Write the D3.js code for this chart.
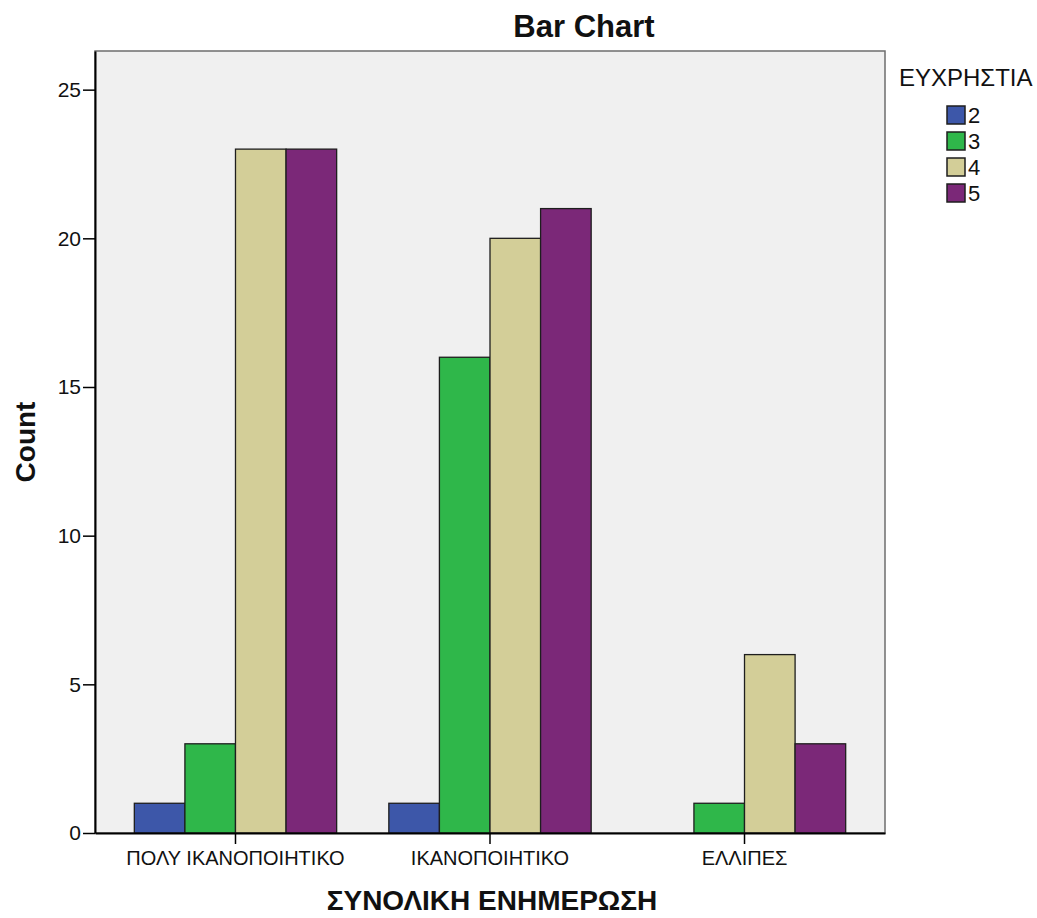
<!DOCTYPE html>
<html>
<head>
<meta charset="utf-8">
<script src="https://cdn.jsdelivr.net/npm/d3@7"></script>
<style>
  body { margin: 0; background: #fff; }
  text { font-family: "Liberation Sans", Arial, sans-serif; fill: #111; }
</style>
</head>
<body>
<div id="chart"></div>
<script>
// categories on the x axis and the series in the legend
const categorias = ["ΠΟΛΥ ΙΚΑΝΟΠΟΙΗΤΙΚΟ", "ΙΚΑΝΟΠΟΙΗΤΙΚΟ", "ΕΛΛΙΠΕΣ"];
const series = ["2", "3", "4", "5"];
const colores = ["#3d57a9", "#2fb74a", "#d3ce98", "#7b2878"];

// counts per series, one value for each category
const val2 = [1, 1, 0];
const val3 = [3, 16, 1];
const val4 = [23, 20, 6];
const val5 = [23, 21, 3];
const valores = [val2, val3, val4, val5];

const yTicks = [0, 5, 10, 15, 20, 25];

const W = 1037, H = 918;
const margin = {left: 95, right: 152, top: 51, bottom: 85};

let svg = d3.select("#chart").append("svg")
    .attr("width", W)
    .attr("height", H);

let x = d3.scaleBand()
    .domain(categorias)
    .range([margin.left, W - margin.right])
    .paddingInner(0)
    .paddingOuter(0.052);

let y = d3.scaleLinear()
    .domain([0, 26.3])
    .range([H - margin.bottom, margin.top]);

let grupo = x.bandwidth() * 0.795;
let xs = d3.scaleBand()
    .domain(series)
    .range([0, grupo]);

let color = d3.scaleOrdinal(series, colores);

// plot background and frame
svg.append("rect")
    .attr("x", margin.left)
    .attr("y", margin.top)
    .attr("width", W - margin.left - margin.right)
    .attr("height", H - margin.top - margin.bottom)
    .attr("fill", "#f0f0f0")
    .attr("stroke", "#6e6e6e")
    .attr("stroke-width", 1.5);

// bars
let filas = [];
categorias.forEach((c, i) => {
    series.forEach((s, j) => {
        filas.push({cat: c, serie: s, valor: valores[j][i]});
    });
});

svg.append("g").selectAll("rect")
    .data(filas.filter(d => d.valor > 0))
    .join("rect")
    .attr("x", d => x(d.cat) + (x.bandwidth() - grupo) / 2 + xs(d.serie))
    .attr("y", d => y(d.valor))
    .attr("width", xs.bandwidth())
    .attr("height", d => y(0) - y(d.valor))
    .attr("fill", d => color(d.serie))
    .attr("stroke", "#1e1e1e")
    .attr("stroke-width", 1.3);

// y axis
let yAxis = svg.append("g")
    .attr("transform", `translate(${margin.left},0)`)
    .call(d3.axisLeft(y).tickValues(yTicks).tickSize(12).tickSizeOuter(0).tickPadding(2));
yAxis.select(".domain").attr("stroke", "#000").attr("stroke-width", 2);
yAxis.selectAll(".tick line").attr("stroke", "#000").attr("stroke-width", 1.5);
yAxis.selectAll(".tick text")
    .style("font-family", "'Liberation Sans', Arial, sans-serif")
    .style("font-size", "21px")
    .attr("fill", "#111");

// x axis
let xAxis = svg.append("g")
    .attr("transform", `translate(0,${H - margin.bottom})`)
    .call(d3.axisBottom(x).tickSize(11).tickPadding(7).tickSizeOuter(0));
xAxis.select(".domain").attr("stroke", "#000").attr("stroke-width", 2);
xAxis.selectAll(".tick line").attr("stroke", "#000").attr("stroke-width", 1.5);
xAxis.selectAll(".tick text")
    .style("font-family", "'Liberation Sans', Arial, sans-serif")
    .style("font-size", "20px")
    .attr("fill", "#111");

// titles
svg.append("text")
    .attr("x", 584)
    .attr("y", 37)
    .attr("text-anchor", "middle")
    .style("font-size", "31px")
    .style("font-weight", "bold")
    .text("Bar Chart");

svg.append("text")
    .attr("transform", "translate(35,442) rotate(-90)")
    .attr("text-anchor", "middle")
    .style("font-size", "28px")
    .style("font-weight", "bold")
    .text("Count");

svg.append("text")
    .attr("x", 492)
    .attr("y", 910)
    .attr("text-anchor", "middle")
    .style("font-size", "28px")
    .style("font-weight", "bold")
    .text("ΣΥΝΟΛΙΚΗ ΕΝΗΜΕΡΩΣΗ");

// legend
let leyenda = svg.append("g").attr("transform", "translate(899,0)");
leyenda.append("text")
    .attr("x", 0)
    .attr("y", 86)
    .style("font-size", "24px")
    .text("ΕΥΧΡΗΣΤΙΑ");

let items = leyenda.selectAll(".item")
    .data(series)
    .join("g")
    .attr("class", "item")
    .attr("transform", (d, i) => `translate(48,${106 + i * 26})`);

items.append("rect")
    .attr("width", 18)
    .attr("height", 18)
    .attr("fill", d => color(d))
    .attr("stroke", "#1e1e1e")
    .attr("stroke-width", 1.5);

items.append("text")
    .attr("x", 21)
    .attr("y", 17)
    .style("font-size", "22px")
    .text(d => d);
</script>
</body>
</html>
